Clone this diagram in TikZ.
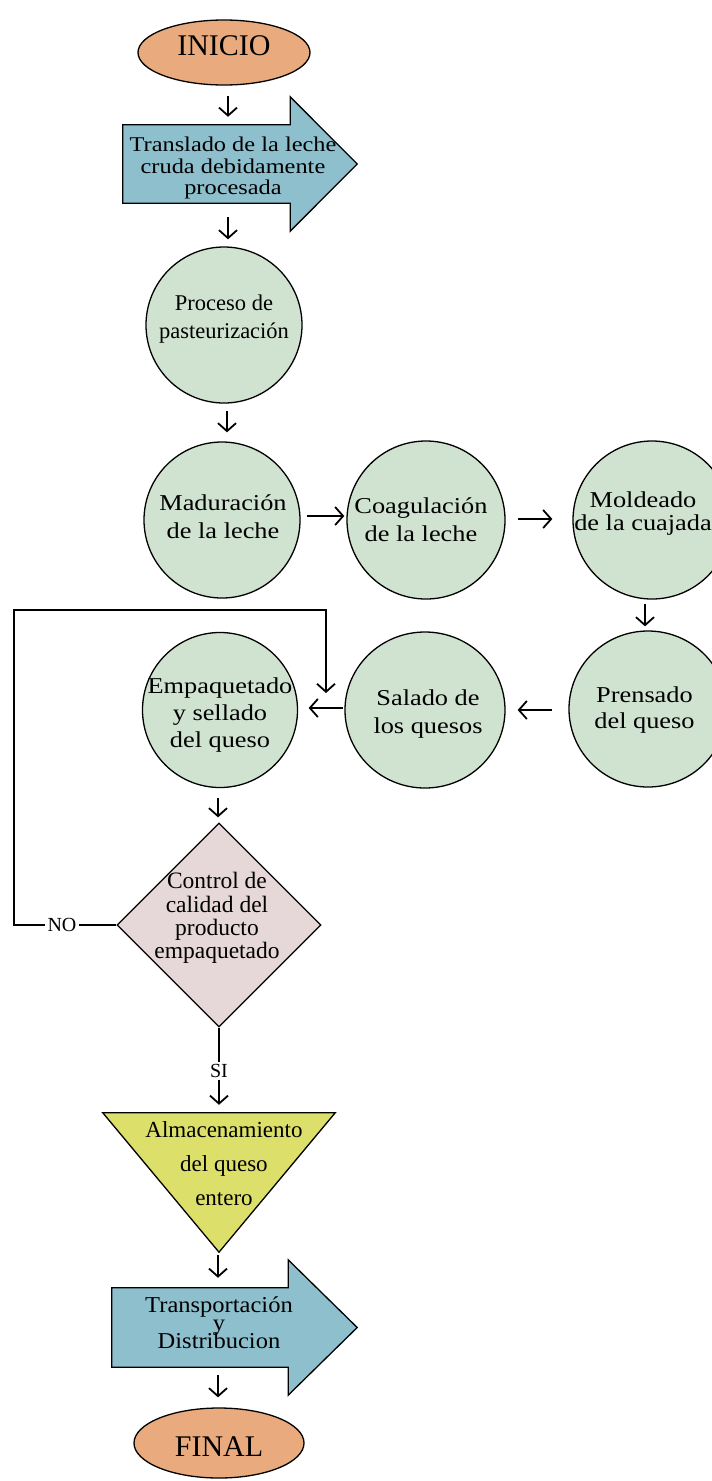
\documentclass[tikz,border=0pt]{standalone}
\usepackage{fontspec}
\setmainfont{Liberation Serif}
\newfontfamily\widefont[FakeStretch=1.16]{Liberation Serif}
\newfontfamily\semiwidefont[FakeStretch=1.08]{Liberation Serif}
\usetikzlibrary{shapes.geometric,arrows.meta,calc}

\definecolor{termfill}{RGB}{233,170,126}
\definecolor{movefill}{RGB}{142,191,205}
\definecolor{stagefill}{RGB}{208,226,208}
\definecolor{checkfill}{RGB}{230,216,216}
\definecolor{storefill}{RGB}{220,223,106}

\tikzset{
  outline/.style={draw=black, line width=1.3pt},
  terminal/.style={ellipse, outline, fill=termfill, inner sep=0pt},
  stage/.style={ellipse, outline, fill=stagefill, inner sep=0pt},
  bodybox/.style={rectangle, inner sep=0pt, draw=none},
  blocktext/.style={align=center, inner sep=0pt},
  stagetext/.style={align=center, inner sep=0pt},
  rowfont/.style={font=\widefont\fontsize{22.7}{#1}\selectfont},
  flow/.style={line width=1.8pt, -{Straight Barb[length=8pt,width=18pt]}},
  link/.style={line width=1.8pt},
}

\begin{document}
\lineskiplimit=-100pt
\begin{tikzpicture}[x=1pt,y=1pt]
\useasboundingbox (0,0) rectangle (712,-1481);

% start terminal
\node[terminal, minimum width=172pt, minimum height=65pt] (inicio) at (224,-52.5) {};
\node[blocktext, font=\fontsize{30}{30}\selectfont] (inicioT) at (224,-46) {INICIO};

% transfer block arrow
\node[bodybox, minimum width=167pt, minimum height=78pt] (tras) at (206.5,-164) {};
\draw[outline, fill=movefill] (tras.north west) -- (tras.north east) -- ++(0,28)
  -- ($(tras.east)+(67,0)$) -- ($(tras.south east)+(0,-28)$)
  -- (tras.south east) -- (tras.south west) -- cycle;
\node[blocktext, font=\widefont\fontsize{21}{21.6}\selectfont] (trasT) at (233,-168)
  {Translado de la leche\\cruda debidamente\\procesada};

% pasteurisation
\node[stage, minimum width=156pt, minimum height=156pt] (pas) at (224,-325) {};
\node[blocktext, font=\fontsize{22.5}{28}\selectfont] (pasT) at (224,-319)
  {Proceso de\\pasteurización};

% first row of stages
\node[stage, minimum width=156pt, minimum height=156pt] (mad) at (222,-520) {};
\node[stagetext, rowfont=28] (madT) at (223,-516.5) {Maduración\\de la leche};
\node[stage, minimum width=158pt, minimum height=158pt] (coa) at (426,-520) {};
\node[stagetext, rowfont=28] (coaT) at (421,-519.5) {Coagulación\\de la leche};
\node[stage, minimum width=158pt, minimum height=158pt] (mol) at (652,-520) {};
\node[stagetext, rowfont=23] (molT) at (643,-513.5) {Moldeado\\de la cuajada};

% second row of stages
\node[stage, minimum width=155pt, minimum height=155pt] (emp) at (220,-710) {};
\node[stagetext, rowfont=27] (empT) at (220,-715) {Empaquetado\\y sellado\\del queso};
\node[stage, minimum width=160pt, minimum height=156pt] (sal) at (425,-710) {};
\node[stagetext, rowfont=28] (salT) at (428,-714) {Salado de\\los quesos};
\node[stage, minimum width=158pt, minimum height=156pt] (pre) at (648,-709) {};
\node[stagetext, rowfont=26] (preT) at (644.5,-710) {Prensado\\del queso};

% quality check
\node[diamond, outline, fill=checkfill, inner sep=0pt, aspect=1,
      minimum width=204pt, minimum height=204pt] (qc) at (219,-925) {};
\node[blocktext, font=\fontsize{23.5}{23.3}\selectfont] (qcT) at (217,-918)
  {Control de\\calidad del\\producto\\empaquetado};
\node[font=\fontsize{20}{20}\selectfont, inner sep=2pt] (no) at (62,-925) {NO};
\node[font=\fontsize{20}{20}\selectfont, inner sep=2pt] (si) at (219,-1071) {SI};

% storage
\node[bodybox, minimum width=232pt, minimum height=139pt] (alm) at (219,-1182.5) {};
\draw[outline, fill=storefill] (alm.north west) -- (alm.north east) -- (alm.south) -- cycle;
\node[blocktext, font=\fontsize{23}{34}\selectfont] (almT) at (224,-1164)
  {Almacenamiento\\del queso\\entero};

% transport block arrow
\node[bodybox, minimum width=176pt, minimum height=79pt] (trans) at (200,-1327.5) {};
\draw[outline, fill=movefill] (trans.north west) -- (trans.north east) -- ++(0,28)
  -- ($(trans.east)+(69,0)$) -- ($(trans.south east)+(0,-28)$)
  -- (trans.south east) -- (trans.south west) -- cycle;
\node[blocktext, font=\semiwidefont\fontsize{22.7}{18}\selectfont] (transT) at (219,-1322.5)
  {Transportación\\y\\Distribucion};

% end terminal
\node[terminal, minimum width=170pt, minimum height=70pt] (fin) at (219,-1443) {};
\node[blocktext, font=\fontsize{30}{30}\selectfont] (finT) at (219,-1447) {FINAL};

% main flow
\draw[flow] ($(inicio.south)+(4,-10)$) -- ($(tras.north -| inicio.south)+(4,8)$);
\draw[flow] ($(tras.south -| pas.north)+(4,-14)$) -- ($(pas.north)+(4,7)$);
\draw[flow] ($(pas.south)+(3,-7)$) -- ($(mad.north -| pas.south)+(3,9)$);
\draw[flow] ($(mad.east)+(6,4)$) -- ($(coa.west)+(-2,4)$);
\draw[flow] ($(coa.east)+(12,1)$) -- ($(mol.west)+(-20,1)$);
\draw[flow] ($(mol.south)+(-7,-4)$) -- ($(pre.north)+(-3,4)$);
\draw[flow] ($(pre.west)+(-16,-1)$) -- ($(sal.east)+(12,0)$);
\draw[flow] ($(sal.west)+(-1,2)$) -- ($(emp.east)+(10.5,2)$);
\draw[flow] ($(emp.south)+(-2,-9.5)$) -- ($(qc.north)+(-1,5)$);

% rejected product goes back to packing
\coordinate (fbA) at (14,-925);
\coordinate (fbB) at (326,-610);
\coordinate (fbEnd) at (326,-693);
\draw[link] (qc.west) -- (no.east);
\draw[flow] (no.west) -- (fbA) |- (fbB) -- (fbEnd);

% accepted product
\draw[link] (qc.south) -- (si.north);
\draw[flow] (si.south) -- ($(alm.north -| si.south)+(0,8)$);
\draw[flow] ($(alm.south)+(-1,-3)$) -- ($(trans.north -| alm.south)+(-1,10)$);
\draw[flow] ($(trans.south -| fin.north)+(-1,-8)$) -- ($(fin.north)+(-1,10)$);
\end{tikzpicture}
\end{document}
